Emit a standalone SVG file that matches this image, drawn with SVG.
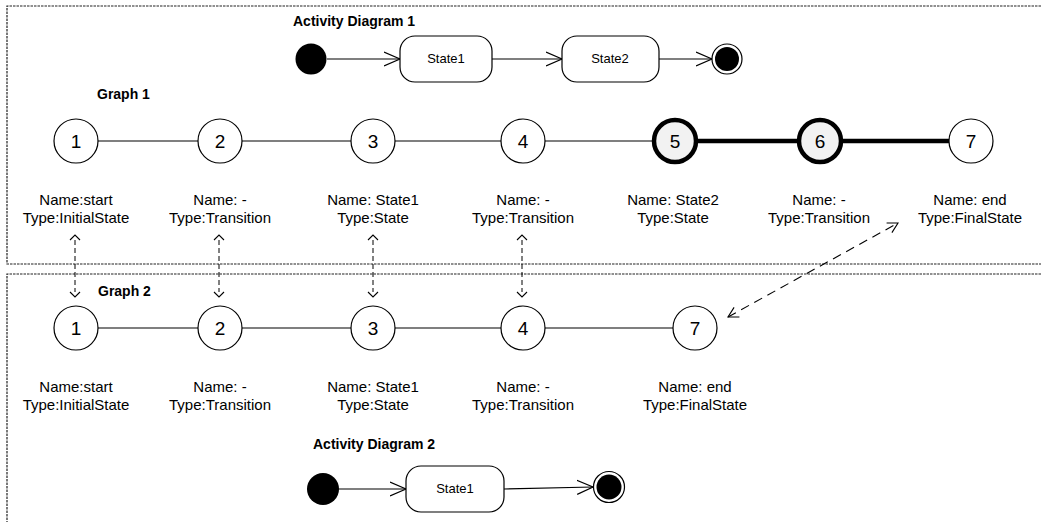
<svg xmlns="http://www.w3.org/2000/svg" width="1041" height="522" viewBox="0 0 1041 522">
<style>
text{font-family:"Liberation Sans",Arial,sans-serif;fill:#000}
.title{font-size:14px;font-weight:bold}
.lbl{font-size:15px;text-anchor:middle}
.num{font-size:19px;text-anchor:middle}
.st{font-size:13px;text-anchor:middle}
.node{fill:#fff;stroke:#000;stroke-width:1.2}
.hl{fill:#f2f2f2;stroke:#000;stroke-width:4.5}
.edge{stroke:#000;stroke-width:1.2;fill:none}
.thick{stroke:#000;stroke-width:4.5;fill:none}
.flow{stroke:#000;stroke-width:1.2;fill:none;marker-end:url(#open)}
.dash{stroke:#000;stroke-width:1;fill:none;stroke-dasharray:5,3;marker-start:url(#sm);marker-end:url(#sm)}
.dash2{stroke:#000;stroke-width:1.1;fill:none;stroke-dasharray:9,6;marker-start:url(#md);marker-end:url(#md)}
.frame{stroke:#222;stroke-width:1.2;fill:none;stroke-dasharray:2.5,1}
.box{fill:#fff;stroke:#000;stroke-width:1.2}
</style>
<defs>
<marker id="open" markerWidth="18" markerHeight="16" refX="16" refY="8" orient="auto" markerUnits="userSpaceOnUse">
<path d="M0,1 L16,8 L0,15" fill="none" stroke="#000" stroke-width="1.2"/>
</marker>
<marker id="sm" markerWidth="12" markerHeight="12" refX="6" refY="6" orient="auto-start-reverse" markerUnits="userSpaceOnUse">
<path d="M1,1 L6,6 L1,11" fill="none" stroke="#000" stroke-width="1.1" transform="translate(5,0)" />
</marker>
<marker id="md" markerWidth="14" markerHeight="14" refX="11" refY="7" orient="auto-start-reverse" markerUnits="userSpaceOnUse">
<path d="M1,1.5 L11,7 L1,12.5" fill="none" stroke="#000" stroke-width="1.1"/>
</marker>
</defs>

<g id="frames">
<path class="frame" d="M1041,6 H7 V264 H1041"/>
<path class="frame" d="M1041,274 H7 V522"/>
</g>

<g id="titles">
<text class="title" x="293" y="26">Activity Diagram 1</text>
<text class="title" x="97" y="99">Graph 1</text>
<text class="title" x="98" y="296">Graph 2</text>
<text class="title" x="313" y="449">Activity Diagram 2</text>
</g>

<g id="connectors">
<line class="flow" x1="327" y1="59" x2="400" y2="59"/>
<line class="flow" x1="492" y1="59" x2="562" y2="59"/>
<line class="flow" x1="659" y1="59" x2="712" y2="59"/>
<line class="edge" x1="98" y1="141" x2="198" y2="141"/>
<line class="edge" x1="242" y1="141" x2="351" y2="141"/>
<line class="edge" x1="395" y1="141" x2="501" y2="141"/>
<line class="edge" x1="545" y1="141" x2="653" y2="141"/>
<line class="thick" x1="697" y1="141" x2="798" y2="141"/>
<line class="thick" x1="842" y1="141" x2="949" y2="141"/>
<line class="edge" x1="98" y1="328" x2="198" y2="328"/>
<line class="edge" x1="242" y1="328" x2="351" y2="328"/>
<line class="edge" x1="395" y1="328" x2="501" y2="328"/>
<line class="edge" x1="545" y1="328" x2="673" y2="328"/>
<line class="dash" x1="75" y1="240" x2="75" y2="292"/>
<line class="dash" x1="219" y1="240" x2="219" y2="292"/>
<line class="dash" x1="373" y1="240" x2="373" y2="292"/>
<line class="dash" x1="522" y1="240" x2="522" y2="292"/>
<line class="dash2" x1="728" y1="317" x2="898" y2="223"/>
<line class="flow" x1="339" y1="489" x2="406" y2="489"/>
<line class="flow" x1="504" y1="489" x2="593" y2="487"/>
</g>

<g id="ad1-initial"><circle cx="311" cy="59" r="15.5" fill="#000"/></g>
<g id="ad1-state1"><rect class="box" x="400" y="36" width="92" height="46" rx="15"/><text class="st" x="446" y="63">State1</text></g>
<g id="ad1-state2"><rect class="box" x="562" y="36" width="97" height="46" rx="15"/><text class="st" x="610" y="63">State2</text></g>
<g id="ad1-final"><circle cx="727" cy="59" r="15" fill="#fff" stroke="#000" stroke-width="1.2"/><circle cx="727" cy="59" r="12" fill="#000"/></g>

<g id="g1-n1"><circle class="node" cx="76" cy="141" r="22"/><text class="num" x="76" y="148">1</text>
<text class="lbl" x="76" y="205">Name:start</text><text class="lbl" x="76" y="223">Type:InitialState</text></g>
<g id="g1-n2"><circle class="node" cx="220" cy="141" r="22"/><text class="num" x="220" y="148">2</text>
<text class="lbl" x="220" y="205">Name: -</text><text class="lbl" x="220" y="223">Type:Transition</text></g>
<g id="g1-n3"><circle class="node" cx="373" cy="141" r="22"/><text class="num" x="373" y="148">3</text>
<text class="lbl" x="373" y="205">Name: State1</text><text class="lbl" x="373" y="223">Type:State</text></g>
<g id="g1-n4"><circle class="node" cx="523" cy="141" r="22"/><text class="num" x="523" y="148">4</text>
<text class="lbl" x="523" y="205">Name: -</text><text class="lbl" x="523" y="223">Type:Transition</text></g>
<g id="g1-n5"><circle class="hl" cx="675" cy="141" r="21"/><text class="num" x="675" y="148">5</text>
<text class="lbl" x="673" y="205">Name: State2</text><text class="lbl" x="673" y="223">Type:State</text></g>
<g id="g1-n6"><circle class="hl" cx="820" cy="141" r="21"/><text class="num" x="820" y="148">6</text>
<text class="lbl" x="819" y="205">Name: -</text><text class="lbl" x="819" y="223">Type:Transition</text></g>
<g id="g1-n7"><circle class="node" cx="971" cy="141" r="22"/><text class="num" x="971" y="148">7</text>
<text class="lbl" x="970" y="205">Name: end</text><text class="lbl" x="970" y="223">Type:FinalState</text></g>

<g id="g2-n1"><circle class="node" cx="76" cy="328" r="22"/><text class="num" x="76" y="335">1</text>
<text class="lbl" x="76" y="392">Name:start</text><text class="lbl" x="76" y="410">Type:InitialState</text></g>
<g id="g2-n2"><circle class="node" cx="220" cy="328" r="22"/><text class="num" x="220" y="335">2</text>
<text class="lbl" x="220" y="392">Name: -</text><text class="lbl" x="220" y="410">Type:Transition</text></g>
<g id="g2-n3"><circle class="node" cx="373" cy="328" r="22"/><text class="num" x="373" y="335">3</text>
<text class="lbl" x="373" y="392">Name: State1</text><text class="lbl" x="373" y="410">Type:State</text></g>
<g id="g2-n4"><circle class="node" cx="523" cy="328" r="22"/><text class="num" x="523" y="335">4</text>
<text class="lbl" x="523" y="392">Name: -</text><text class="lbl" x="523" y="410">Type:Transition</text></g>
<g id="g2-n7"><circle class="node" cx="695" cy="328" r="22"/><text class="num" x="695" y="335">7</text>
<text class="lbl" x="695" y="392">Name: end</text><text class="lbl" x="695" y="410">Type:FinalState</text></g>

<g id="ad2-initial"><circle cx="323" cy="489" r="16" fill="#000"/></g>
<g id="ad2-state1"><rect class="box" x="406" y="466" width="98" height="46" rx="15"/><text class="st" x="455" y="493">State1</text></g>
<g id="ad2-final"><circle cx="609" cy="487" r="15.5" fill="#fff" stroke="#000" stroke-width="1.2"/><circle cx="609" cy="487" r="12.5" fill="#000"/></g>
</svg>
